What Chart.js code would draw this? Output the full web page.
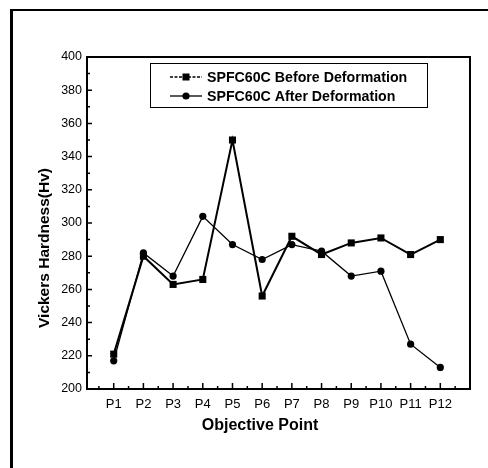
<!DOCTYPE html>
<html>
<head>
<meta charset="utf-8">
<script src="https://cdn.jsdelivr.net/npm/chart.js@4/dist/chart.umd.min.js"></script>
<style>
  html, body { margin: 0; padding: 0; background: #fff; }
  #wrap { position: relative; width: 488px; height: 468px; overflow: hidden; }
  #frame { position: absolute; left: 10px; top: 9px; right: -5px; bottom: -5px;
           border-left: 3px solid #000; border-top: 2px solid #000; pointer-events: none; }
</style>
</head>
<body>
<div id="wrap">
  <canvas id="hardnessChart"></canvas>
  <div id="frame"></div>
</div>
<script>
const categories = ['P1', 'P2', 'P3', 'P4', 'P5', 'P6', 'P7', 'P8', 'P9', 'P10', 'P11', 'P12'];
const beforeValues = [221, 280, 263, 266, 350, 256, 292, 281, 288, 291, 281, 290];
const afterValues = [217, 282, 268, 304, 287, 278, 287, 283, 268, 271, 227, 213];
const seriesNames = ['SPFC60C Before Deformation', 'SPFC60C After Deformation'];
const yTickValues = [200, 220, 240, 260, 280, 300, 320, 340, 360, 380, 400];

const toPoints = vals => vals.map((v, i) => ({x: i + 1, y: v}));

// ticks pointing inside, frame, legend box and axis titles
const decorPlugin = {
    id: 'decor',
    afterDraw(chart) {
        const ctx = chart.ctx;
        const a = chart.chartArea;
        const xs = chart.scales.x, ys = chart.scales.y;
        ctx.save();
        ctx.strokeStyle = '#000';
        ctx.lineWidth = 1.5;
        ctx.beginPath();
        yTickValues.forEach((v, i) => {
            const py = ys.getPixelForValue(v);
            ctx.moveTo(a.left, py); ctx.lineTo(a.left + 5, py);
            if (i < yTickValues.length - 1) {
                const pm = ys.getPixelForValue(v + 10);
                ctx.moveTo(a.left, pm); ctx.lineTo(a.left + 3, pm);
            }
        });
        categories.forEach((c, i) => {
            const px = xs.getPixelForValue(i + 1);
            ctx.moveTo(px, a.bottom); ctx.lineTo(px, a.bottom - 6);
        });
        for (let i = 0; i <= categories.length; i++) {
            const pm = xs.getPixelForValue(i + 0.5);
            ctx.moveTo(pm, a.bottom); ctx.lineTo(pm, a.bottom - 3);
        }
        ctx.stroke();

        ctx.lineWidth = 2;
        ctx.strokeRect(a.left, a.top, a.right - a.left, a.bottom - a.top);

        // legend
        const lx = a.left + 63, ly = a.top + 6, lw = 277, lh = 44;
        ctx.lineWidth = 1;
        ctx.strokeRect(lx + 0.5, ly + 0.5, lw, lh);
        ctx.font = 'bold 14.2px "Liberation Sans", Arial, sans-serif';
        ctx.textBaseline = 'middle';
        ctx.fillStyle = '#000';
        chart.data.datasets.forEach((ds, i) => {
            const ry = ly + 14 + i * 19;
            ctx.lineWidth = 1.3;
            ctx.setLineDash(i === 0 ? [3, 1.5] : []);
            ctx.beginPath();
            ctx.moveTo(lx + 20, ry); ctx.lineTo(lx + 52, ry);
            ctx.stroke();
            ctx.setLineDash([]);
            const mx = lx + 36;
            if (ds.pointStyle === 'rect') {
                ctx.fillRect(mx - 3.5, ry - 3.5, 7, 7);
            } else {
                ctx.beginPath(); ctx.arc(mx, ry, 3.6, 0, Math.PI * 2); ctx.fill();
            }
            ctx.fillText(ds.label, lx + 57, ry + 1);
        });

        // axis titles
        ctx.font = 'bold 16px "Liberation Sans", Arial, sans-serif';
        ctx.textAlign = 'center';
        ctx.fillText('Objective Point', 260, 426);
        ctx.translate(45, 248);
        ctx.rotate(-Math.PI / 2);
        ctx.font = 'bold 15.5px "Liberation Sans", Arial, sans-serif';
        ctx.fillText('Vickers Hardness(Hv)', 0, 0);
        ctx.restore();
    }
};

const ctx = document.getElementById('hardnessChart').getContext('2d');
const hardnessChart = new Chart(ctx, {
    type: 'line',
    data: {
        datasets: [{
            label: seriesNames[0],
            data: toPoints(beforeValues),
            borderColor: '#000',
            backgroundColor: '#000',
            borderWidth: 2,
            pointStyle: 'rect',
            pointRadius: 5,
            pointBorderWidth: 0
        }, {
            label: seriesNames[1],
            data: toPoints(afterValues),
            borderColor: '#000',
            backgroundColor: '#000',
            borderWidth: 1.3,
            pointStyle: 'circle',
            pointRadius: 3.6,
            pointBorderWidth: 0
        }]
    },
    options: {
        responsive: true,
        maintainAspectRatio: false,
        animation: false,
        layout: {padding: {left: 0, top: 57, right: 18, bottom: 0}},
        plugins: {
            legend: {display: false},
            tooltip: {enabled: false}
        },
        scales: {
            x: {
                type: 'linear',
                min: 0.1,
                max: 13,
                afterFit: s => { s.height = 79; },
                afterBuildTicks: s => { s.ticks = categories.map((c, i) => ({value: i + 1})); },
                grid: {display: false, drawTicks: false},
                border: {display: false},
                ticks: {
                    padding: 8,
                    color: '#000',
                    maxRotation: 0,
                    autoSkip: false,
                    font: {family: '"Liberation Sans", Arial, sans-serif', size: 13},
                    callback: v => categories[v - 1] || ''
                }
            },
            y: {
                min: 200,
                max: 400,
                afterFit: s => { s.width = 87; },
                afterBuildTicks: s => { s.ticks = yTickValues.map(v => ({value: v})); },
                grid: {display: false, drawTicks: false},
                border: {display: false},
                ticks: {
                    padding: 5,
                    color: '#000',
                    font: {family: '"Liberation Sans", Arial, sans-serif', size: 12.5}
                }
            }
        }
    },
    plugins: [decorPlugin]
});
</script>
</body>
</html>
